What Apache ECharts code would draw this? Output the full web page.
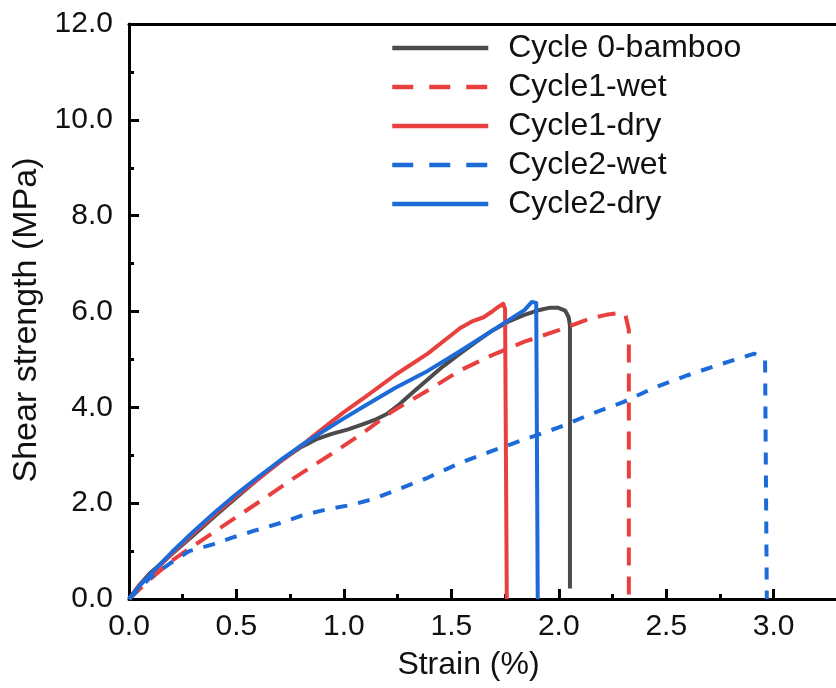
<!DOCTYPE html>
<html>
<head>
<meta charset="utf-8">
<script src="https://cdn.jsdelivr.net/npm/echarts@6/dist/echarts.min.js"></script>
<style>
  html, body { margin: 0; padding: 0; background: #ffffff; }
  #chart { width: 836px; height: 688px; }
</style>
</head>
<body>
<div id="chart"></div>
<script>
// Shear stress–strain curves of bamboo specimens after wet/dry cycles
const cycle0Strain = [0, 0.05, 0.1, 0.2, 0.3, 0.4, 0.5, 0.6, 0.7, 0.8, 0.87, 0.94, 1.02, 1.09, 1.15, 1.2, 1.26, 1.32, 1.39, 1.46, 1.54, 1.62, 1.69, 1.77, 1.84, 1.9, 1.96, 1.995, 2.03, 2.046, 2.052, 2.052];
const cycle0Stress = [0, 0.3, 0.55, 0.94, 1.33, 1.73, 2.12, 2.5, 2.86, 3.17, 3.33, 3.44, 3.54, 3.65, 3.75, 3.86, 4.07, 4.31, 4.58, 4.85, 5.12, 5.38, 5.6, 5.8, 5.93, 6.02, 6.08, 6.08, 6.02, 5.88, 5.7, 0.22];

const cycle1WetStrain = [0, 0.1, 0.2, 0.28, 0.38, 0.48, 0.63, 0.78, 0.94, 1.09, 1.23, 1.39, 1.54, 1.69, 1.84, 2.0, 2.15, 2.22, 2.27, 2.31, 2.326, 2.326];
const cycle1WetStress = [0, 0.42, 0.8, 1.05, 1.35, 1.65, 2.1, 2.56, 3.02, 3.47, 3.93, 4.35, 4.77, 5.09, 5.37, 5.61, 5.86, 5.93, 5.96, 5.93, 5.62, 0];

const cycle1DryStrain = [0, 0.05, 0.1, 0.2, 0.3, 0.4, 0.5, 0.6, 0.7, 0.8, 0.9, 1.0, 1.1, 1.24, 1.39, 1.54, 1.6, 1.65, 1.69, 1.72, 1.742, 1.75, 1.758];
const cycle1DryStress = [0, 0.3, 0.5, 0.95, 1.37, 1.77, 2.15, 2.5, 2.85, 3.19, 3.55, 3.9, 4.22, 4.68, 5.12, 5.65, 5.8, 5.88, 6.0, 6.1, 6.16, 6.05, 0];

const cycle2WetStrain = [0, 0.1, 0.19, 0.28, 0.39, 0.48, 0.58, 0.7, 0.81, 0.92, 1.03, 1.14, 1.23, 1.39, 1.54, 1.69, 1.84, 2.0, 2.15, 2.3, 2.45, 2.6, 2.76, 2.91, 2.96, 2.968];
const cycle2WetStress = [0, 0.45, 0.74, 1.0, 1.14, 1.28, 1.42, 1.58, 1.75, 1.87, 1.96, 2.09, 2.25, 2.53, 2.84, 3.09, 3.33, 3.58, 3.86, 4.11, 4.42, 4.67, 4.91, 5.12, 4.99, 0];

const cycle2DryStrain = [0, 0.05, 0.1, 0.2, 0.3, 0.4, 0.5, 0.6, 0.7, 0.8, 0.9, 1.0, 1.1, 1.24, 1.39, 1.54, 1.69, 1.84, 1.875, 1.895, 1.902];
const cycle2DryStress = [0, 0.28, 0.52, 0.98, 1.41, 1.81, 2.19, 2.54, 2.88, 3.2, 3.49, 3.77, 4.04, 4.41, 4.76, 5.17, 5.6, 6.03, 6.2, 6.18, 0];

const seriesNames = ['Cycle 0-bamboo', 'Cycle1-wet', 'Cycle1-dry', 'Cycle2-wet', 'Cycle2-dry'];

// Tick positions on the strain axis
const strainMajorTicks = [0, 0.5, 1.0, 1.5, 2.0, 2.5, 3.0];
const strainMinorTicks = [0.25, 0.75, 1.25, 1.75, 2.25, 2.75];

const GRAY = '#4b4b4b';
const RED = '#e8403e';
const BLUE = '#1c6bd8';
const FONT = 'Liberation Sans, Arial, sans-serif';
const INK = '#111111';

function pairs(xs, ys) {
  return xs.map((x, i) => [x, ys[i]]);
}

const curves = [
  { name: seriesNames[0], data: pairs(cycle0Strain, cycle0Stress), color: GRAY, type: 'solid' },
  { name: seriesNames[1], data: pairs(cycle1WetStrain, cycle1WetStress), color: RED, type: [18, 11] },
  { name: seriesNames[2], data: pairs(cycle1DryStrain, cycle1DryStress), color: RED, type: 'solid' },
  { name: seriesNames[3], data: pairs(cycle2WetStrain, cycle2WetStress), color: BLUE, type: [12, 11] },
  { name: seriesNames[4], data: pairs(cycle2DryStrain, cycle2DryStress), color: BLUE, type: 'solid' }
];

const chart = echarts.init(document.getElementById('chart'), null, { renderer: 'canvas' });

const option = {
  animation: false,
  backgroundColor: '#ffffff',
  textStyle: { fontFamily: FONT, color: INK },
  grid: { left: 129, right: 0, top: 24, bottom: 89, containLabel: false },
  legend: {
    orient: 'vertical',
    left: 390,
    top: 32,
    padding: 0,
    itemWidth: 96,
    itemHeight: 14,
    itemGap: 7,
    itemStyle: { opacity: 0 },
    textStyle: { fontFamily: FONT, fontSize: 32, color: INK, lineHeight: 31, padding: [0, 0, 0, 15] },
    data: curves.map(c => ({
      name: c.name,
      itemStyle: { opacity: 0 },
      lineStyle: { type: c.type === 'solid' ? 'solid' : [21, 16], width: 4.5 }
    }))
  },
  xAxis: [
    {
      type: 'value',
      position: 'bottom',
      min: 0,
      max: 3.29,
      name: 'Strain (%)',
      nameLocation: 'middle',
      nameGap: 50,
      nameTextStyle: { fontFamily: FONT, fontSize: 32, color: INK, padding: [0, 28, 0, 0] },
      axisLine: { show: true, onZero: false, lineStyle: { color: '#000', width: 3 } },
      axisTick: { show: true, inside: true, length: 10, customValues: strainMajorTicks, lineStyle: { color: '#000', width: 3 } },
      axisLabel: {
        show: true,
        margin: 13,
        fontFamily: FONT,
        fontSize: 30,
        color: INK,
        customValues: strainMajorTicks,
        formatter: v => v.toFixed(1)
      },
      splitLine: { show: false }
    },
    {
      // minor ticks between labelled strain values
      type: 'value',
      position: 'bottom',
      min: 0,
      max: 3.29,
      axisLine: { show: false },
      axisTick: { show: true, inside: true, length: 5, customValues: strainMinorTicks, lineStyle: { color: '#000', width: 3 } },
      axisLabel: { show: false },
      splitLine: { show: false }
    },
    {
      // frame line along the top of the plot
      type: 'value',
      position: 'top',
      min: 0,
      max: 3.29,
      axisLine: { show: true, onZero: false, lineStyle: { color: '#000', width: 3 } },
      axisTick: { show: false },
      axisLabel: { show: false },
      splitLine: { show: false }
    }
  ],
  yAxis: {
    type: 'value',
    min: 0,
    max: 12,
    interval: 2,
    name: 'Shear strength (MPa)',
    nameLocation: 'middle',
    nameGap: 80,
    nameTextStyle: { fontFamily: FONT, fontSize: 34, color: INK, padding: [0, 17, 0, 0] },
    axisLine: { show: true, onZero: false, lineStyle: { color: '#000', width: 3 } },
    axisTick: { show: true, inside: true, length: 10, lineStyle: { color: '#000', width: 3 } },
    minorTick: { show: true, splitNumber: 2, length: 5, lineStyle: { color: '#000', width: 3 } },
    axisLabel: { margin: 16, fontFamily: FONT, fontSize: 30, color: INK, formatter: v => v.toFixed(1) },
    splitLine: { show: false },
    minorSplitLine: { show: false }
  },
  series: curves.map(c => ({
    name: c.name,
    type: 'line',
    xAxisIndex: 0,
    data: c.data,
    symbol: 'none',
    showSymbol: false,
    smooth: false,
    clip: false,
    color: c.color,
    lineStyle: { color: c.color, width: 4, type: c.type, cap: 'butt', join: 'round' },
    itemStyle: { color: c.color }
  }))
};

chart.setOption(option);
</script>
</body>
</html>
